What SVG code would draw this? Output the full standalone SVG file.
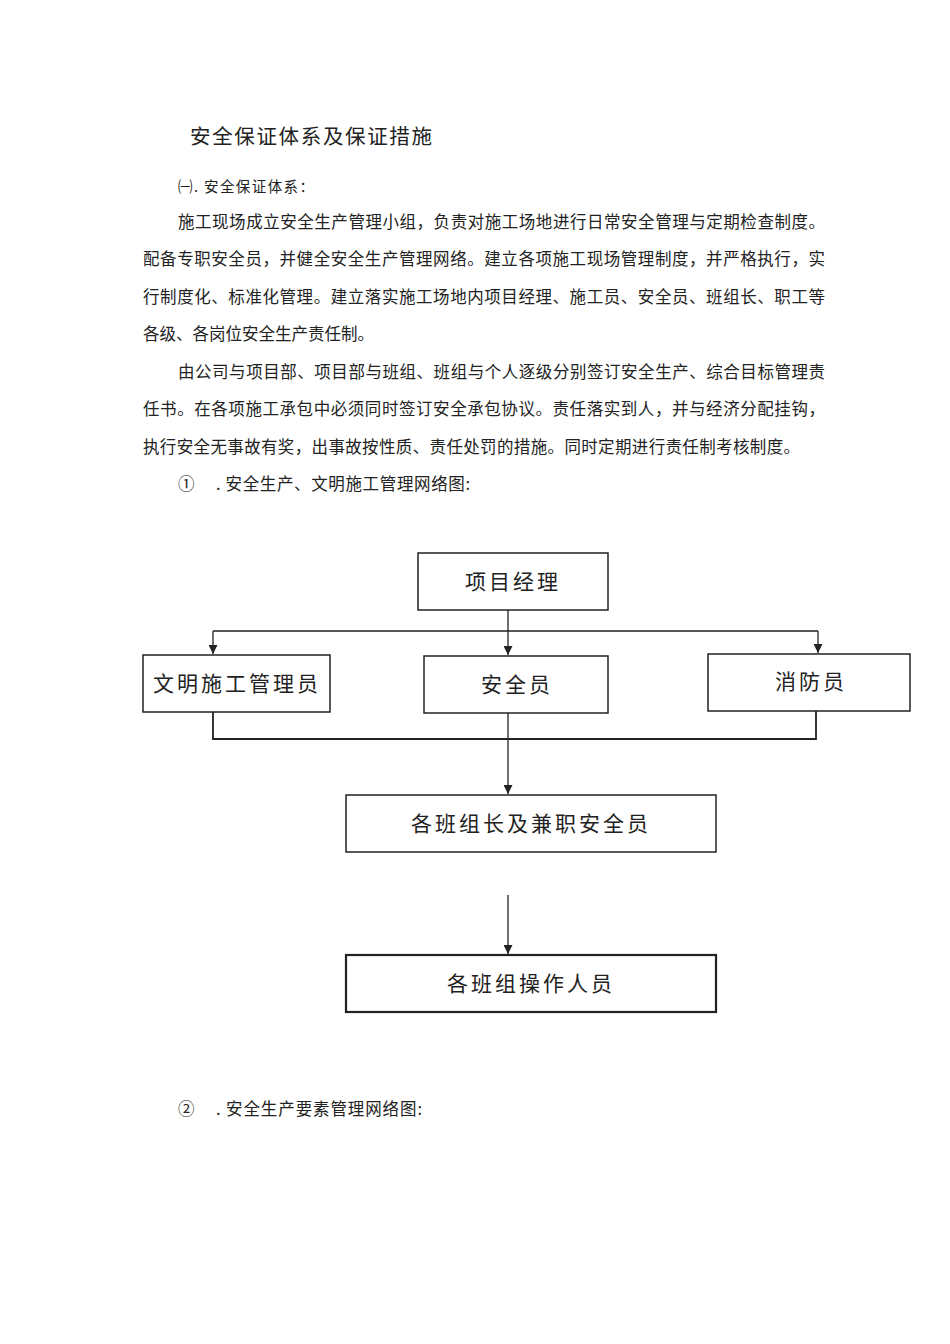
<svg xmlns="http://www.w3.org/2000/svg" width="950" height="1344" viewBox="0 0 950 1344">
<style>
text{font-family:"Noto Sans CJK SC","Liberation Serif",serif;fill:#222}
.p{font-size:16.5px}
.b{fill:#fff;stroke:#222;stroke-width:1.5}
.n{font-size:21px;letter-spacing:3px;text-anchor:middle}
.c{fill:none;stroke:#222;stroke-width:1.3}
</style>
<defs><marker id="a" viewBox="0 0 10 10" refX="10" refY="5" markerWidth="9" markerHeight="9" markerUnits="userSpaceOnUse" orient="auto"><path d="M0,0L10,5L0,10z" fill="#222"/></marker></defs>
<rect width="950" height="1344" fill="#fff"/>
<text x="190" y="144" style="font-size:20.5px" textLength="242" lengthAdjust="spacing">安全保证体系及保证措施</text>
<text x="178" y="192" style="font-size:14.5px" textLength="136" lengthAdjust="spacing">㈠. 安全保证体系：</text>
<text class="p" x="178" y="228" textLength="647" lengthAdjust="spacing">施工现场成立安全生产管理小组，负责对施工场地进行日常安全管理与定期检查制度。</text>
<text class="p" x="143" y="265" textLength="682" lengthAdjust="spacing">配备专职安全员，并健全安全生产管理网络。建立各项施工现场管理制度，并严格执行，实</text>
<text class="p" x="143" y="303" textLength="682" lengthAdjust="spacing">行制度化、标准化管理。建立落实施工场地内项目经理、施工员、安全员、班组长、职工等</text>
<text class="p" x="143" y="340">各级、各岗位安全生产责任制。</text>
<text class="p" x="178" y="378" textLength="647" lengthAdjust="spacing">由公司与项目部、项目部与班组、班组与个人逐级分别签订安全生产、综合目标管理责</text>
<text class="p" x="143" y="415" textLength="682" lengthAdjust="spacing">任书。在各项施工承包中必须同时签订安全承包协议。责任落实到人，并与经济分配挂钩，</text>
<text class="p" x="143" y="453" textLength="657" lengthAdjust="spacing">执行安全无事故有奖，出事故按性质、责任处罚的措施。同时定期进行责任制考核制度。</text>
<text class="p" x="178" y="490">①<tspan x="216" textLength="254" lengthAdjust="spacing">. 安全生产、文明施工管理网络图:</tspan></text>
<text class="p" x="178" y="1115">②<tspan x="216" textLength="206" lengthAdjust="spacing">. 安全生产要素管理网络图:</tspan></text>
<g id="connectors">
<path class="c" d="M508,610V631M213,631H818"/>
<path class="c" d="M213,631V654" marker-end="url(#a)"/>
<path class="c" d="M508,631V655" marker-end="url(#a)"/>
<path class="c" d="M818,631V653" marker-end="url(#a)"/>
<path class="c" d="M213,712V739H816V711" style="stroke-width:1.8"/>
<path class="c" d="M508,713V794" marker-end="url(#a)"/>
<path class="c" d="M508,895V954" marker-end="url(#a)"/>
</g>
<g id="n1"><rect class="b" x="418" y="553" width="190" height="57"/><text class="n" x="513" y="589">项目经理</text></g>
<g id="n2"><rect class="b" x="143" y="655" width="187" height="57"/><text class="n" x="237" y="691">文明施工管理员</text></g>
<g id="n3"><rect class="b" x="424" y="656" width="184" height="57"/><text class="n" x="517" y="692">安全员</text></g>
<g id="n4"><rect class="b" x="708" y="654" width="202" height="57"/><text class="n" x="811" y="689">消防员</text></g>
<g id="n5"><rect class="b" x="346" y="795" width="370" height="57"/><text class="n" x="531" y="831">各班组长及兼职安全员</text></g>
<g id="n6"><rect class="b" x="346" y="955" width="370" height="57" style="stroke-width:2.2"/><text class="n" x="531" y="991">各班组操作人员</text></g>
</svg>
